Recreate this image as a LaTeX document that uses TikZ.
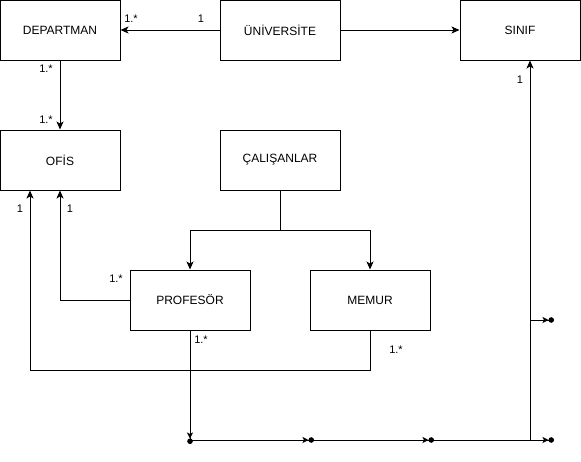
\documentclass[tikz,border=0pt]{standalone}
\usepackage{fontspec}
\setmainfont{Liberation Sans}
\usetikzlibrary{arrows.meta,calc}
\tikzset{>={Stealth[length=8pt,width=7pt,inset=2pt]}}
\tikzset{box/.style={draw,align=center,minimum width=120pt,minimum height=60pt,inner sep=0pt,font=\fontsize{12}{14}\selectfont}}
\tikzset{card/.style={inner sep=0pt,font=\fontsize{11}{13}\selectfont}}
\tikzset{loose/.style={-{Stealth[length=6pt,width=6pt,inset=1.5pt] Circle[length=5.5pt,sep=-2pt]}}}

\begin{document}
\begin{tikzpicture}[x=1pt,y=-1pt,line width=1pt]
\useasboundingbox (0,0) rectangle (581,461);

\node [box] (dep) at (60,30) {DEPARTMAN};
\node [box] (uni) at (280,30) {ÜNİVERSİTE};
\node [box] (sinif) at (520,30) {SINIF};
\node [box] (ofis) at (60,160) {OFİS};
\node [box] (cal) at (280,160) {ÇALIŞANLAR};
\node [box] (prof) at (190,300) {PROFESÖR};
\node [box] (memur) at (370,300) {MEMUR};

\node [card] (c1) at (131,19) {1.*};
\node [card] (c2) at (201,19) {1};
\node [card] (c3) at (46,69) {1.*};
\node [card] (c4) at (46,120) {1.*};
\node [card] (c5) at (520,80) {1};
\node [card] (c6) at (20,209) {1};
\node [card] (c7) at (70,209) {1};
\node [card] (c8) at (116,279) {1.*};
\node [card] (c9) at (201,340) {1.*};
\node [card] (c10) at (396,350) {1.*};

\coordinate (split) at (280,230);
\coordinate (d1) at (190,442);
\coordinate (d2) at (312,440);
\coordinate (d3) at (432,440);
\coordinate (d4) at (552,440);
\coordinate (d5) at (552,320);
\coordinate (j1) at (530,440);
\coordinate (j2) at (530,320);

\begin{scope}[line width=1pt]
\draw[->,color=black] (uni.west) to (dep.east);
\draw[->,color=black] (uni.east) to (sinif.west);
\draw[->,color=black] (dep.south) to (ofis.north);
\draw[->,color=black] (cal.south) -- (split) -| (prof.north);
\draw[->,color=black] (split) -| (memur.north);
\draw[->,color=black] (prof.west) -| (ofis.south);
\draw[->,color=black] (memur.south) -- (370,370) -| ([xshift=-30pt]ofis.south);
\draw[loose,color=black] (prof.south) to (d1);
\draw[loose,color=black] (190,440) to (d2);
\draw[loose,color=black] (310,440) to (d3);
\draw[loose,color=black] (430,440) to (d4);
\draw[->,color=black] (j1) to ([xshift=10pt]sinif.south);
\draw[loose,color=black] (j2) to (d5);
\end{scope}

\end{tikzpicture}
\end{document}
